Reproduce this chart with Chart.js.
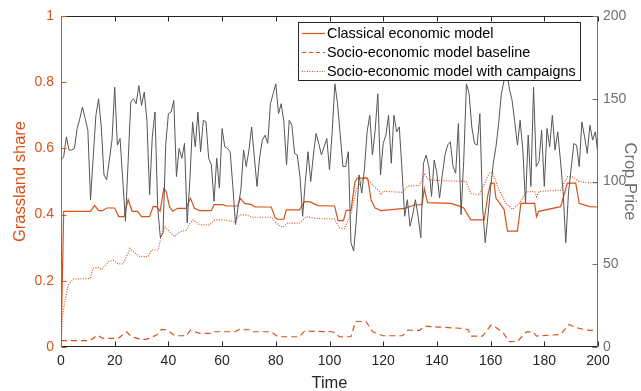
<!DOCTYPE html>
<html>
<head>
<meta charset="utf-8">
<script src="https://cdn.jsdelivr.net/npm/chart.js@4.4.1/dist/chart.umd.min.js"></script>
<style>
  html, body { margin: 0; padding: 0; background: #fff; }
  #wrap { width: 641px; height: 391px; }
</style>
</head>
<body>
<div id="wrap"><canvas id="chart" width="641" height="391"></canvas></div>
<script>
// Crop price, one value per time step 0..200 (right axis)
const cropPrice = [
  113,115,127,119,119,120,132,138,145,138,131,89,115,140,150,133,104,101,113,125,157,
  122,126,101,76,112,148,150,147,158,146,154,137,92,127,142,85,66,69,122,141,
  142,149,103,120,114,123,75,101,136,121,142,118,137,136,114,110,88,114,96,132,
  121,120,118,97,74,85,95,119,109,119,133,115,97,115,125,128,123,147,153,159,
  141,147,136,110,137,134,117,116,103,79,100,118,100,116,129,123,116,121,126,107,
  130,159,147,128,109,109,118,63,58,77,104,93,107,130,140,116,131,153,104,123,
  128,140,111,140,130,133,107,79,89,73,80,89,79,66,111,116,109,91,113,105,
  90,104,116,122,124,109,105,135,80,113,159,153,133,123,122,141,85,63,79,96,
  111,121,135,153,161,167,156,149,136,122,137,119,87,128,97,157,109,112,131,97,
  132,121,140,119,130,113,94,63,93,108,123,122,109,136,127,117,134,125,130,116
];

// Grassland share, classical economic model
const classicalT = [0,1,11,12.5,14,15.5,17,20,21.5,23.5,25,26.5,28.5,30,33,34.3,35.6,36.9,38.3,39.2,40.4,41.6,43.5,46.6,48.2,49.7,51.6,56,57,60.3,61.5,65.8,66.8,68.4,71,72.2,78.3,79.8,80.8,83,83.9,88.8,90.7,92.6,95.7,101.9,103.2,105.2,106.2,108,109.5,110.4,114.2,115.5,117,119.2,127.9,131.6,134.5,135.3,136.5,145.2,148.9,150,152.6,157.6,159,160,161.3,162,165,166.3,170,171.3,176.4,177.1,177.9,186.1,188.6,191.7,193,196.8,200];
const classicalV = [0,0.41,0.41,0.428,0.412,0.412,0.42,0.42,0.394,0.394,0.445,0.41,0.41,0.394,0.394,0.424,0.424,0.41,0.479,0.47,0.424,0.41,0.419,0.419,0.449,0.419,0.412,0.412,0.43,0.43,0.426,0.426,0.449,0.434,0.43,0.423,0.423,0.39,0.386,0.386,0.414,0.414,0.439,0.439,0.427,0.426,0.382,0.382,0.413,0.413,0.5,0.51,0.51,0.444,0.42,0.412,0.419,0.429,0.43,0.479,0.436,0.434,0.424,0.42,0.384,0.384,0.46,0.495,0.495,0.45,0.416,0.35,0.35,0.434,0.434,0.394,0.41,0.424,0.495,0.495,0.434,0.424,0.423];

// Grassland share, socio-economic model baseline
const baselineT = [0,10.8,13.5,15.6,21.3,24.4,26.3,30,31.8,35.6,37.4,39.3,42.4,46.7,48.2,51.7,56,57.2,64.7,66.5,70.9,71.5,78.3,80.8,88.8,90.7,101.2,103.7,108,109.7,113.6,116.1,119.8,127.2,129.2,133.5,135.5,141,149.8,151.7,152.7,157,160.1,161.3,164.6,167,170,173.4,175.9,177.1,186.1,189.2,191.7,195.8,200];
const baselineV = [0.019,0.019,0.036,0.026,0.026,0.046,0.031,0.023,0.023,0.036,0.053,0.052,0.034,0.034,0.051,0.041,0.041,0.046,0.046,0.053,0.052,0.046,0.046,0.031,0.031,0.048,0.046,0.031,0.031,0.077,0.077,0.046,0.034,0.034,0.051,0.05,0.063,0.06,0.056,0.052,0.033,0.033,0.066,0.063,0.044,0.016,0.017,0.046,0.045,0.033,0.038,0.068,0.059,0.051,0.05];

// Grassland share, socio-economic model with campaigns
const campaignT = [0,0.5,1.5,2.7,4.6,10.8,12,14,15.1,17.6,19.5,21.3,23.1,24.4,25.7,27.6,29.4,32.5,33.7,36.2,37.4,38.7,39.9,42.4,44.2,46.7,48,49.2,51.7,55.4,57.2,60.3,64.7,66.5,69,71.5,78.3,80.8,82.7,84.2,88.8,91.4,94.4,101.9,103.7,105.5,108.1,109.9,113,114.9,117.4,118.6,119.2,119.9,127.2,129.2,133.5,135.5,136.7,141,150.9,152.7,155.8,159.5,160.7,163.2,165.7,168.2,170.7,173.4,176.4,177.1,178,186.1,188.6,190.5,193,195.5,200];
const campaignV = [0,0.09,0.142,0.187,0.205,0.207,0.238,0.24,0.233,0.258,0.262,0.251,0.251,0.273,0.298,0.283,0.273,0.273,0.293,0.293,0.338,0.363,0.353,0.333,0.348,0.353,0.374,0.384,0.369,0.369,0.384,0.384,0.379,0.399,0.399,0.392,0.392,0.369,0.362,0.374,0.374,0.394,0.389,0.386,0.36,0.357,0.404,0.474,0.515,0.5,0.479,0.47,0.459,0.471,0.467,0.486,0.488,0.525,0.505,0.503,0.5,0.464,0.459,0.525,0.528,0.474,0.434,0.416,0.434,0.469,0.47,0.454,0.47,0.474,0.514,0.514,0.5,0.497,0.495];

const xTicks = [0, 20, 40, 60, 80, 100, 120, 140, 160, 180, 200];
const leftTicks = [0, 0.2, 0.4, 0.6, 0.8, 1];
const rightTicks = [0, 50, 100, 150, 200];
const seriesNames = ["Classical economic model", "Socio-economic model baseline", "Socio-economic model with campaigns"];

const ORANGE = "#D95319";
const GRAY_LINE = "#555555";
const GRAY_AXIS = "#6f6f6f";
const DARK = "#262626";
const FONT = "'Liberation Sans', Arial, sans-serif";

const pts = (ts, vs) => ts.map((t, i) => ({ x: t, y: vs[i] }));

// Ticks inside the box, box border, legend and axis titles
const decor = {
  id: "decor",
  afterDatasetsDraw(chart) {
    const { ctx, chartArea: a, scales } = chart;
    const L = Math.round(a.left) + 0.5, R = Math.round(a.right) - 0.5;
    const T = Math.round(a.top) + 0.5, B = Math.round(a.bottom) - 0.5;
    const tl = 5;
    ctx.save();
    ctx.lineWidth = 1;

    // x ticks top and bottom
    ctx.strokeStyle = DARK;
    ctx.beginPath();
    xTicks.forEach(v => {
      const x = Math.round(scales.x.getPixelForValue(v)) + 0.5;
      ctx.moveTo(x, B); ctx.lineTo(x, B - tl);
      ctx.moveTo(x, T); ctx.lineTo(x, T + tl);
    });
    ctx.moveTo(L, B); ctx.lineTo(R, B);
    ctx.moveTo(L, T); ctx.lineTo(R, T);
    ctx.stroke();

    // left axis
    ctx.strokeStyle = ORANGE;
    ctx.beginPath();
    leftTicks.forEach(v => {
      const y = Math.round(scales.y.getPixelForValue(v)) + 0.5;
      ctx.moveTo(L, y); ctx.lineTo(L + tl, y);
    });
    ctx.moveTo(L, T - 0.5); ctx.lineTo(L, B + 0.5);
    ctx.stroke();

    // right axis
    ctx.strokeStyle = GRAY_AXIS;
    ctx.beginPath();
    rightTicks.forEach(v => {
      const y = Math.round(scales.y1.getPixelForValue(v)) + 0.5;
      ctx.moveTo(R, y); ctx.lineTo(R - tl, y);
    });
    ctx.moveTo(R, T - 0.5); ctx.lineTo(R, B + 0.5);
    ctx.stroke();

    // legend
    const bx = 298.5, by = 22.5, bw = 282, bh = 58;
    ctx.fillStyle = "#fff";
    ctx.fillRect(bx, by, bw, bh);
    ctx.strokeStyle = DARK;
    ctx.strokeRect(bx, by, bw, bh);
    const rows = [33.5, 52.5, 71.5];
    const dashes = [[], [4, 3], [1, 1.5]];
    ctx.font = "14.4px " + FONT;
    ctx.textBaseline = "middle";
    ctx.textAlign = "left";
    rows.forEach((ry, i) => {
      ctx.strokeStyle = ORANGE;
      ctx.lineWidth = 1.2;
      ctx.setLineDash(dashes[i]);
      ctx.beginPath();
      ctx.moveTo(302, ry); ctx.lineTo(325, ry);
      ctx.stroke();
      ctx.setLineDash([]);
      ctx.fillStyle = "#000";
      ctx.fillText(seriesNames[i], 327, ry + 0.5);
    });

    // axis titles
    ctx.font = "16.5px " + FONT;
    ctx.textAlign = "center";
    ctx.fillStyle = DARK;
    ctx.textBaseline = "alphabetic";
    ctx.fillText("Time", (a.left + a.right) / 2, 388);

    ctx.save();
    ctx.translate(25, (a.top + a.bottom) / 2);
    ctx.rotate(-Math.PI / 2);
    ctx.fillStyle = ORANGE;
    ctx.fillText("Grassland share", 0, 0);
    ctx.restore();

    ctx.save();
    ctx.translate(625, (a.top + a.bottom) / 2);
    ctx.rotate(Math.PI / 2);
    ctx.fillStyle = GRAY_AXIS;
    ctx.fillText("Crop Price", 0, 0);
    ctx.restore();

    ctx.restore();
  }
};

new Chart(document.getElementById("chart"), {
  type: "line",
  data: {
    datasets: [
      {
        label: "Crop Price",
        data: cropPrice.map((p, t) => ({ x: t, y: p })),
        yAxisID: "y1",
        borderColor: GRAY_LINE,
        borderWidth: 1,
        pointRadius: 0,
        tension: 0
      },
      {
        label: seriesNames[0],
        data: pts(classicalT, classicalV),
        yAxisID: "y",
        borderColor: ORANGE,
        borderWidth: 1.2,
        pointRadius: 0,
        tension: 0
      },
      {
        label: seriesNames[1],
        data: pts(baselineT, baselineV),
        yAxisID: "y",
        borderColor: ORANGE,
        borderWidth: 1.2,
        borderDash: [6, 4],
        pointRadius: 0,
        tension: 0
      },
      {
        label: seriesNames[2],
        data: pts(campaignT, campaignV),
        yAxisID: "y",
        borderColor: ORANGE,
        borderWidth: 1.2,
        borderDash: [1, 1.5],
        pointRadius: 0,
        tension: 0
      }
    ]
  },
  options: {
    responsive: false,
    animation: false,
    devicePixelRatio: 1,
    layout: { padding: { top: 16, left: 0, right: 0, bottom: 0 } },
    plugins: { legend: { display: false }, tooltip: { enabled: false } },
    scales: {
      x: {
        type: "linear",
        min: 0, max: 200,
        afterFit: s => { s.height = 44; },
        afterBuildTicks: s => { s.ticks = xTicks.map(v => ({ value: v })); },
        grid: { display: false, drawTicks: false },
        border: { display: false },
        ticks: { color: DARK, font: { size: 14, family: FONT }, padding: 6, maxRotation: 0 }
      },
      y: {
        position: "left",
        min: 0, max: 1,
        afterFit: s => { s.width = 61; },
        afterBuildTicks: s => { s.ticks = leftTicks.map(v => ({ value: v })); },
        grid: { display: false, drawTicks: false },
        border: { display: false },
        ticks: { color: ORANGE, font: { size: 14, family: FONT }, padding: 7, callback: v => String(v) }
      },
      y1: {
        position: "right",
        min: 0, max: 200,
        afterFit: s => { s.width = 43; },
        afterBuildTicks: s => { s.ticks = rightTicks.map(v => ({ value: v })); },
        grid: { display: false, drawTicks: false },
        border: { display: false },
        ticks: { color: GRAY_AXIS, font: { size: 14, family: FONT }, padding: 5 }
      }
    }
  },
  plugins: [decor]
});
</script>
</body>
</html>
